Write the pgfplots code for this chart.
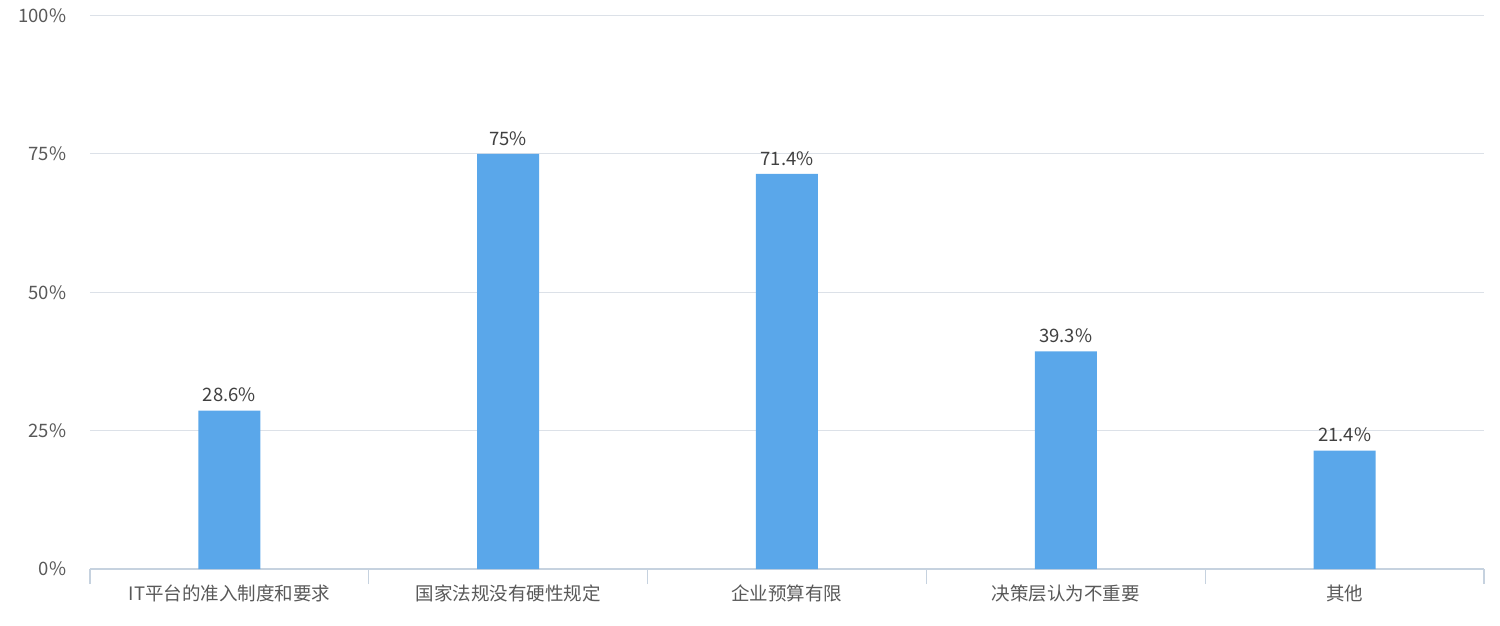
\documentclass[border=0pt]{standalone}
\usepackage{pgfplots}
\pgfplotsset{compat=1.18}
\usepackage{fontspec}
\setmainfont{Noto Sans CJK SC}
\definecolor{barblue}{HTML}{5AA7EA}
\definecolor{gridgray}{HTML}{DCE1E8}
\definecolor{axisgray}{HTML}{C6D2DF}
\definecolor{ticktext}{HTML}{595959}
\definecolor{valtext}{HTML}{404040}
\begin{document}
\begin{tikzpicture}
\path[use as bounding box] (-90pt,-56pt) rectangle (1410pt,569pt);
\begin{axis}[
    scale only axis,
    width=1394pt,
    height=553.5pt,
    font=\fontsize{18.5pt}{22pt}\selectfont,
    xmin=-0.5, xmax=4.5,
    ymin=0, ymax=100,
    axis x line*=bottom,
    axis y line*=left,
    x axis line style={draw=axisgray, line width=1.2pt},
    y axis line style={draw=none},
    xtick={0,1,2,3,4},
    xticklabels={IT平台的准入制度和要求,国家法规没有硬性规定,企业预算有限,决策层认为不重要,其他},
    minor xtick={-0.5,0.5,1.5,2.5,3.5,4.5},
    major x tick style={draw=none},
    minor x tick style={draw=axisgray, line width=1.2pt},
    minor tick length=15pt,
    tick align=outside,
    ytick={0,25,50,75,100},
    yticklabels={0\%,25\%,50\%,75\%,100\%},
    ytick style={draw=none},
    ymajorgrids,
    grid style={draw=gridgray, line width=1.2pt},
    xticklabel style={text=ticktext, yshift=-8pt},
    yticklabel style={text=ticktext, xshift=-16pt},
    ybar,
    bar width=62pt,
    point meta=explicit symbolic,
    nodes near coords,
    nodes near coords style={text=valtext, yshift=5pt},
    ]
\addplot[draw=none, fill=barblue] coordinates {
    (0,28.6) [28.6\%]
    (1,75) [75\%]
    (2,71.4) [71.4\%]
    (3,39.3) [39.3\%]
    (4,21.4) [21.4\%]
};
\end{axis}
\end{tikzpicture}
\end{document}
